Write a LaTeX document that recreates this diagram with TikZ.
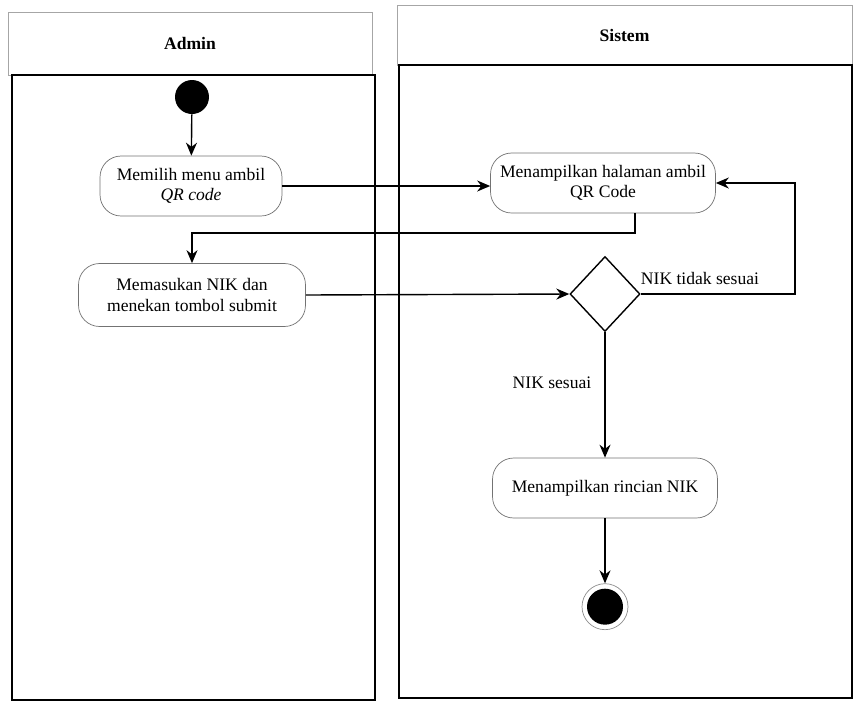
\documentclass[tikz,border=0pt]{standalone}
\usepackage{fontspec}
\setmainfont{Liberation Serif}
\usetikzlibrary{positioning}
\usetikzlibrary{shapes.geometric,arrows.meta}
\usepackage{xcolor}

\begin{document}
\begin{tikzpicture}[x=0.02cm, y=-0.02cm,
		actnode/.style={rectangle, rounded corners=12pt, draw=black!55, fill=white, thin, minimum width=4.5cm, minimum height=1.2cm, align=center, font=\fontsize{10}{11.5}\selectfont},
		lanehead/.style={rectangle, draw=black!35, thin, font=\bfseries\fontsize{10}{12}\selectfont},
		lanebody/.style={draw=black, line width=1.4pt},
		startnode/.style={circle, fill=black, minimum size=0.68cm, inner sep=0pt},
		endnode/.style={circle, draw=black!45, thin, minimum size=0.92cm, inner sep=0pt, path picture={\fill[black] (path picture bounding box.center) circle (0.36cm);}},
		decisionnode/.style={diamond, draw=black, thick, minimum width=1.4cm, minimum height=1.5cm, inner sep=0pt},
		guardlabel/.style={draw=none, fill=none, font=\fontsize{10}{12}\selectfont},
		flow/.style={-{Stealth[length=2.6mm, width=2.2mm]}, thick},
		]
		\useasboundingbox (0,0) rectangle (855,704);
		
		%Swimlanes
		\node[lanehead, minimum width=7.28cm, minimum height=1.26cm] (admin)  at (190,43.5) {Admin};
		\node[lanehead, minimum width=9.1cm, minimum height=1.2cm]   (sistem) at (624.5,35) {Sistem};
		\draw[lanebody] (12,75) rectangle (375,700);
		\draw[lanebody] (399,65) rectangle (852,698);
		
		%Nodes
		\node[startnode]                                       (start)       at (192,97)  {};
		\node[actnode, minimum width=3.64cm]                   (pilih-menu)  at (191,186) {Memilih menu ambil\\\textit{QR code}};
		\node[actnode, minimum width=4.54cm, minimum height=1.26cm] (input-nik) at (192,295) {Memasukan NIK dan\\menekan tombol submit};
		\node[actnode]                                         (halaman-qr)  at (603,183) {Menampilkan halaman ambil\\QR Code};
		\node[decisionnode]                                    (cek-nik)     at (605,294) {};
		\node[actnode]                                         (rincian-nik) at (605,488) {Menampilkan rincian NIK};
		\node[endnode]                                         (end)         [below=1.3cm of rincian-nik] {};
		\node[guardlabel]                                      (tidak-sesuai) at (700,278) {NIK tidak sesuai};
		\node[guardlabel]                                      (sesuai)       at (552,383) {NIK sesuai};
		
		%Lines
		\coordinate (turn-1)    at (635,233);
		\coordinate (loop-back) at (795,183);
		\draw[flow] (start) -- (pilih-menu);
		\draw[flow] (pilih-menu.east) -- (pilih-menu.east -| halaman-qr.west);
		\draw[flow] (halaman-qr.south -| turn-1) -- (turn-1) -| (input-nik.north);
		\draw[flow] (input-nik.east) -- (cek-nik.west);
		\draw[flow] (cek-nik.east) -| (loop-back) -- (halaman-qr.east);
		\draw[flow] (cek-nik.south) -- (rincian-nik.north);
		\draw[flow] (rincian-nik) -- (end);
	\end{tikzpicture}
\end{document}
